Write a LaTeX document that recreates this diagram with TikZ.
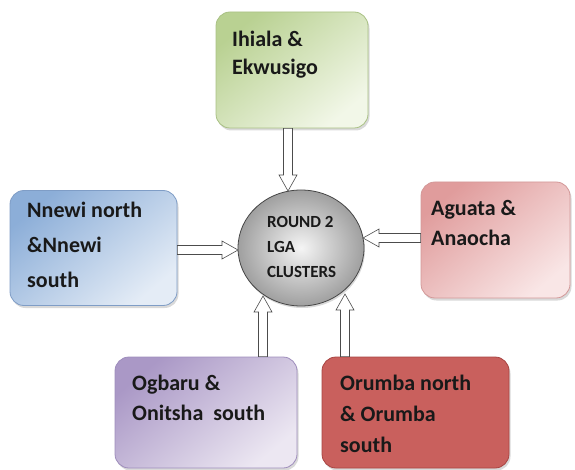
\documentclass[tikz,border=0pt]{standalone}
\usepackage{fontspec}
\setmainfont{Carlito}
\usetikzlibrary{calc,shadows,shapes.geometric}
\definecolor{gA}{HTML}{B9D192}\definecolor{gB}{HTML}{F2F7E8}\definecolor{gE}{HTML}{A9C184}
\definecolor{bA}{HTML}{8CAED8}\definecolor{bB}{HTML}{E4ECF6}\definecolor{bE}{HTML}{7F9DC6}
\definecolor{pA}{HTML}{E09C9C}\definecolor{pB}{HTML}{F9E6E6}\definecolor{pE}{HTML}{D39898}
\definecolor{uA}{HTML}{AA98C6}\definecolor{uB}{HTML}{ECE7F2}\definecolor{uE}{HTML}{9E8DBC}
\definecolor{rA}{HTML}{C9605D}\definecolor{rM}{HTML}{DC8E8A}\definecolor{rE}{HTML}{A84442}
\newcommand\blockarr[2]{%
  \coordinate (#1h) at ($(#2)!16pt!(#1)$);
  \draw[blk] ($(#1)!4.5pt!90:(#2)$) -- ($(#1h)!4.5pt!90:(#2)$) -- ($(#1h)!9pt!90:(#2)$)
    -- (#2) -- ($(#1h)!9pt!-90:(#2)$) -- ($(#1h)!4.5pt!-90:(#2)$) -- ($(#1)!4.5pt!-90:(#2)$) -- cycle;}
\tikzset{
  box/.style={rectangle, rounded corners=14pt, draw, line width=0.8pt, inner sep=0pt,
    drop shadow={opacity=0.3, shadow xshift=1.5pt, shadow yshift=-2.5pt}},
  txt/.style={anchor=north west, inner sep=0pt, align=left, text=black!90,
    font=\bfseries\fontsize{22}{31}\selectfont},
  blk/.style={draw=gray!60!black, fill=white, line width=0.6pt, line join=miter},
}
\begin{document}
\begin{tikzpicture}[x=1pt,y=-1pt]
\useasboundingbox (0,0) rectangle (575,470);
% boxes
\node[box, draw=gE, top color=gA, bottom color=gB, shading angle=40,
  minimum width=152pt, minimum height=116pt] (g) at (292,70) {};
\node[box, draw=bE, top color=bA, bottom color=bB, shading angle=40,
  minimum width=167pt, minimum height=115pt] (b) at (93.5,248) {};
\node[box, draw=pE, top color=pA, bottom color=pB, shading angle=40,
  minimum width=149pt, minimum height=116pt] (p) at (495.5,240) {};
\node[box, draw=uE, top color=uA, bottom color=uB, shading angle=40,
  minimum width=182pt, minimum height=111pt] (u) at (206,412.5) {};
\node[box, draw=rE, top color=rA, middle color=rM, bottom color=rA,
  minimum width=187pt, minimum height=111pt] (r) at (415.5,412.5) {};
% texts
\node[txt, font=\bfseries\fontsize{22}{28}\selectfont] (gt) at (232,31) {Ihiala \&\\Ekwusigo};
\node[txt, font=\bfseries\fontsize{22}{35}\selectfont] (bt) at (27,202) {Nnewi north\\\&Nnewi\\south};
\node[txt, font=\bfseries\fontsize{22}{30}\selectfont] (pt) at (431,200) {Aguata \&\\Anaocha};
\node[txt, font=\bfseries\fontsize{22}{30}\selectfont] (ut) at (132,375) {Ogbaru \&\\Onitsha\ \ south};
\node[txt, font=\bfseries\fontsize{22}{31}\selectfont] (rt) at (340,375) {Orumba north\\\& Orumba\\south};
% centre
\node[ellipse, draw=gray!55!black, line width=0.8pt, shading=radial, inner color=gray!8,
  outer color=gray!75, minimum width=126pt, minimum height=116pt, inner sep=0pt,
  drop shadow={opacity=0.3, shadow xshift=1pt, shadow yshift=-2pt}] (c) at (301,248) {};
\node[txt, font=\bfseries\fontsize{17}{25}\selectfont] (ct) at (267,216) {ROUND 2\\LGA\\CLUSTERS};
% arrows
\coordinate (ta) at (g.south -| 288,0); \coordinate (tb) at (288,191);
\coordinate (la) at (b.east |- 0,250);  \coordinate (lb) at (238,250);
\coordinate (ra) at (p.west |- 0,238);  \coordinate (rb) at (363,238);
\coordinate (pa) at (u.north -| 263,0); \coordinate (pb) at (263,296);
\coordinate (qa) at (r.north -| 345,0); \coordinate (qb) at (345,294);
\blockarr{ta}{tb}
\blockarr{la}{lb}
\blockarr{ra}{rb}
\blockarr{pa}{pb}
\blockarr{qa}{qb}
\end{tikzpicture}
\end{document}
